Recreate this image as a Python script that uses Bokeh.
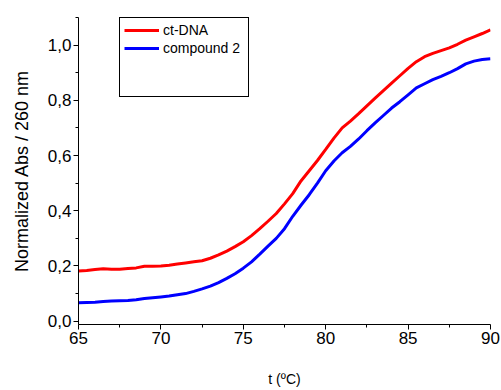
from bokeh.plotting import figure
from bokeh.models import FixedTicker, Range1d, Legend, LegendItem
from bokeh.embed import file_html
from bokeh.resources import INLINE

# temperature (°C)
t = [65.0 + 0.5 * i for i in range(51)]

ct_dna = [0.182, 0.184, 0.187, 0.190, 0.188, 0.188, 0.191, 0.193, 0.199, 0.199,
          0.200, 0.203, 0.207, 0.211, 0.215, 0.219, 0.228, 0.240, 0.254, 0.270,
          0.288, 0.310, 0.335, 0.362, 0.390, 0.425, 0.462, 0.508, 0.545, 0.582,
          0.622, 0.663, 0.700, 0.725, 0.752, 0.780, 0.808, 0.835, 0.862, 0.889,
          0.916, 0.940, 0.958, 0.970, 0.980, 0.990, 1.003, 1.018, 1.030, 1.042,
          1.055]

compound2 = [0.067, 0.068, 0.069, 0.071, 0.073, 0.074, 0.075, 0.078, 0.082, 0.085,
             0.088, 0.091, 0.096, 0.100, 0.108, 0.117, 0.127, 0.140, 0.155, 0.172,
             0.192, 0.215, 0.243, 0.272, 0.300, 0.335, 0.380, 0.420, 0.458, 0.500,
             0.545, 0.580, 0.610, 0.633, 0.660, 0.690, 0.718, 0.745, 0.772, 0.795,
             0.820, 0.845, 0.860, 0.875, 0.887, 0.900, 0.915, 0.932, 0.942, 0.948,
             0.951]

x_ticks = [65, 70, 75, 80, 85, 90]
x_minor = [67.5, 72.5, 77.5, 82.5, 87.5]
y_ticks = [0.0, 0.2, 0.4, 0.6, 0.8, 1.0]
y_tick_labels = ["0,0", "0,2", "0,4", "0,6", "0,8", "1,0"]
y_minor = [0.1, 0.3, 0.5, 0.7, 0.9, 1.1]

FONT = "Liberation Sans"

p = figure(width=501, height=390, output_backend="svg", toolbar_location=None,
           x_range=Range1d(65, 90), y_range=Range1d(-0.012, 1.10),
           min_border_left=78, min_border_right=11, min_border_top=17,
           min_border_bottom=66)
p.outline_line_color = None
p.xgrid.visible = False
p.ygrid.visible = False
p.background_fill_color = "white"
p.border_fill_color = "white"

r1 = p.line(t, ct_dna, line_color="#FF0000", line_width=3)
r2 = p.line(t, compound2, line_color="#0000FF", line_width=3)
d1 = p.line([], [], line_alpha=0)
d2 = p.line([], [], line_alpha=0)

xa = p.xaxis[0]
xa.ticker = FixedTicker(ticks=x_ticks, minor_ticks=x_minor)
ya = p.yaxis[0]
ya.ticker = FixedTicker(ticks=y_ticks, minor_ticks=y_minor)
ya.major_label_overrides = {v: s for v, s in zip(y_ticks, y_tick_labels)}

for ax in (xa, ya):
    ax.axis_line_color = "black"
    ax.axis_line_width = 1
    ax.major_tick_line_color = "black"
    ax.minor_tick_line_color = "black"
    ax.major_tick_out = 5
    ax.major_tick_in = 0
    ax.minor_tick_out = 3
    ax.minor_tick_in = 0
    ax.major_label_text_font = FONT
    ax.major_label_text_font_size = "17px"
    ax.major_label_text_color = "black"
    ax.major_label_standoff = 2
    ax.axis_label_text_font = FONT
    ax.axis_label_text_font_style = "normal"
    ax.axis_label_text_color = "black"

ya.axis_label = "Normalized Abs / 260 nm"
ya.axis_label_text_font_size = "18px"
ya.axis_label_standoff = 13

xa.axis_label = "t (ºC)"
xa.axis_label_text_font_size = "14px"
xa.axis_label_standoff = 24

legend = Legend(items=[LegendItem(label="ct-DNA", renderers=[r1]),
                       LegendItem(label="compound 2", renderers=[r2]),
                       LegendItem(label=" ", renderers=[d1]),
                       LegendItem(label=" ", renderers=[d2])],
                location=(41, 227))
legend.label_text_font = FONT
legend.label_text_font_size = "14px"
legend.label_text_color = "black"
legend.label_height = 16
legend.glyph_height = 16
legend.glyph_width = 35
legend.label_standoff = 4
legend.label_width = 81
legend.spacing = 2
legend.padding = 4
legend.margin = 0
legend.border_line_color = "black"
legend.border_line_alpha = 1
legend.border_line_width = 1
legend.background_fill_color = "white"
legend.background_fill_alpha = 1
p.add_layout(legend, "center")

open("out.html", "w").write(file_html(p, INLINE))
